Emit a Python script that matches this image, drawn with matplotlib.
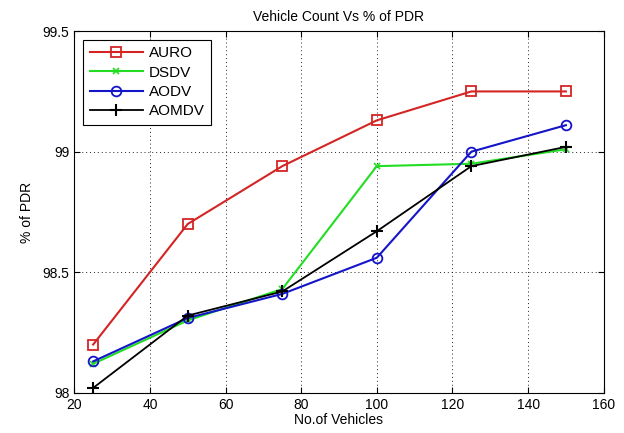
import matplotlib
matplotlib.use("Agg")
import matplotlib.pyplot as plt

plt.rcParams["font.family"] = ["Liberation Sans", "DejaVu Sans"]

vehicles = [25, 50, 75, 100, 125, 150]
auro = [98.20, 98.70, 98.94, 99.13, 99.25, 99.25]
dsdv = [98.12, 98.30, 98.43, 98.94, 98.95, 99.01]
aodv = [98.13, 98.31, 98.41, 98.56, 99.00, 99.11]
aomdv = [98.02, 98.32, 98.42, 98.67, 98.94, 99.02]

x_ticks = [20, 40, 60, 80, 100, 120, 140, 160]
y_ticks = [98, 98.5, 99, 99.5]
y_labels = ["98", "98.5", "99", "99.5"]

fig = plt.figure(figsize=(6.24, 4.33), dpi=100)
ax = fig.add_axes([0.119, 0.093, 0.8485, 0.835])

ax.plot(vehicles, auro, color="#d42424", marker="s", markersize=7,
        markerfacecolor="none", markeredgewidth=1.3, linewidth=1.5, label="AURO")
ax.plot(vehicles, dsdv, color="#22dd22", marker="x", markersize=4,
        markeredgewidth=1.2, linewidth=1.5, label="DSDV")
ax.plot(vehicles, aodv, color="#1414c8", marker="o", markersize=7,
        markerfacecolor="none", markeredgewidth=1.3, linewidth=1.5, label="AODV")
ax.plot(vehicles, aomdv, color="black", marker="+", markersize=9,
        markeredgewidth=1.5, linewidth=1.3, label="AOMDV")

ax.set_xlim(20, 160)
ax.set_ylim(98, 99.5)
ax.set_xticks(x_ticks)
ax.set_yticks(y_ticks)
ax.set_yticklabels(y_labels)
ax.tick_params(direction="in", top=True, right=True, labelsize=10, length=4)
ax.grid(True, linestyle=(0, (1, 3)), color="#222222", linewidth=0.7)
for s in ax.spines.values():
    s.set_linewidth(0.8)

ax.set_title("Vehicle Count Vs % of PDR", fontsize=10, pad=7)
ax.set_xlabel("No.of Vehicles", fontsize=10, labelpad=1)
ax.set_ylabel("% of PDR", fontsize=10, labelpad=6)

leg = ax.legend(loc="upper left", fontsize=11, handlelength=3.5, numpoints=1,
                fancybox=False, edgecolor="black", framealpha=1,
                borderaxespad=0.6, labelspacing=0.35, handletextpad=0.4,
                borderpad=0.4)
leg.get_frame().set_linewidth(0.8)

fig.savefig("out.png", dpi=100)
